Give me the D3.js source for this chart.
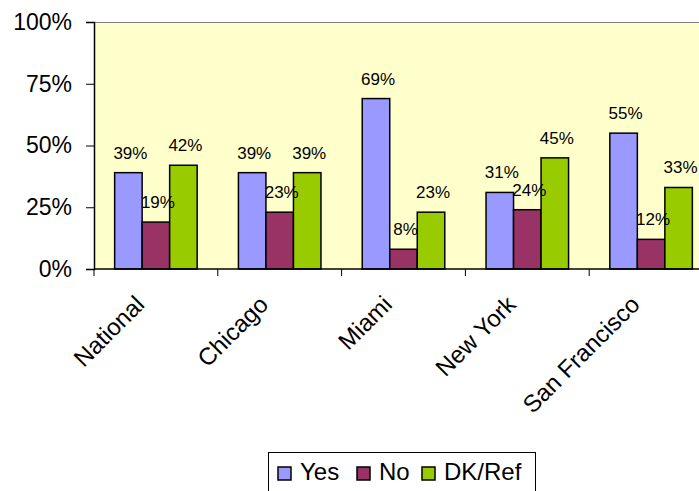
<!DOCTYPE html>
<html>
<head>
<meta charset="utf-8">
<script src="https://cdn.jsdelivr.net/npm/d3@7"></script>
<style>
  body { margin: 0; background: #fff; }
  text { font-family: Arial, "Liberation Sans", sans-serif; }
</style>
</head>
<body>
<svg id="chart"></svg>
<script>
// valeurs
var categories = ["National", "Chicago", "Miami", "New York", "San Francisco"];
var series = ["Yes", "No", "DK/Ref"];
var yes = [0.39, 0.39, 0.69, 0.31, 0.55];
var no = [0.19, 0.23, 0.08, 0.24, 0.12];
var dkref = [0.42, 0.39, 0.23, 0.45, 0.33];
var yTicks = [0, 0.25, 0.5, 0.75, 1];

var colors = ["#9999FF", "#993366", "#99CC00"];

var W = 699, H = 491;
var plot = {left: 94, top: 22, right: 713, bottom: 269};

const svg = d3.select("#chart").attr("width", W).attr("height", H);

var x0 = d3.scaleBand()
  .domain(categories)
  .range([plot.left, plot.right])
  .paddingInner(1/3)
  .paddingOuter(1/6);
var step = x0.step();

var x1 = d3.scaleBand()
  .domain(series)
  .range([0, x0.bandwidth()]);

var y = d3.scaleLinear().domain([0, 1]).range([plot.bottom, plot.top]);

var color = d3.scaleOrdinal(series, colors);

// table de données
var data = categories.map((c, i) => ({
  cat: c,
  vals: [
    {key: "Yes", v: yes[i]},
    {key: "No", v: no[i]},
    {key: "DK/Ref", v: dkref[i]}
  ]
}));

// fond de la zone de tracé
svg.append("rect")
  .attr("x", plot.left).attr("y", plot.top)
  .attr("width", plot.right - plot.left)
  .attr("height", plot.bottom - plot.top)
  .attr("fill", "#FFFFCC");

svg.append("line")
  .attr("x1", plot.left).attr("x2", W)
  .attr("y1", plot.top + 0.5).attr("y2", plot.top + 0.5)
  .attr("stroke", "#808080").attr("stroke-width", 1);

// barres
const groups = svg.selectAll("g.grp")
  .data(data)
  .enter().append("g")
  .attr("class", "grp")
  .attr("transform", d => "translate(" + x0(d.cat) + ",0)");

groups.selectAll("rect")
  .data(d => d.vals)
  .enter().append("rect")
  .attr("x", d => x1(d.key))
  .attr("y", d => y(d.v))
  .attr("width", x1.bandwidth())
  .attr("height", d => y(0) - y(d.v))
  .attr("fill", d => color(d.key))
  .attr("stroke", "#000")
  .attr("stroke-width", 1.5);

groups.selectAll("text")
  .data(d => d.vals)
  .enter().append("text")
  .attr("x", d => x1(d.key) + x1.bandwidth() / 2 + 2)
  .attr("y", d => y(d.v) - 14)
  .attr("text-anchor", "middle")
  .attr("font-size", 17)
  .attr("fill", "#000")
  .text(d => d3.format(".0%")(d.v));

// axe Y
const yAxis = svg.append("g")
  .attr("transform", "translate(" + plot.left + ",0)")
  .call(d3.axisLeft(y).tickValues(yTicks).tickFormat(d3.format(".0%")).tickSize(8).tickPadding(14));
yAxis.select(".domain").attr("stroke", "#000").attr("stroke-width", 1.5);
yAxis.selectAll(".tick line").attr("stroke", "#000");
yAxis.selectAll(".tick text")
  .attr("font-size", 23)
  .attr("font-family", "Arial, 'Liberation Sans', sans-serif")
  .attr("fill", "#000");

// axe X : traits entre catégories
svg.append("line")
  .attr("x1", plot.left).attr("x2", W)
  .attr("y1", plot.bottom).attr("y2", plot.bottom)
  .attr("stroke", "#000").attr("stroke-width", 1.5);

svg.selectAll("line.xtick")
  .data(categories)
  .enter().append("line")
  .attr("class", "xtick")
  .attr("x1", d => x0(d) - step / 6).attr("x2", d => x0(d) - step / 6)
  .attr("y1", plot.bottom).attr("y2", plot.bottom + 7)
  .attr("stroke", "#000");

svg.selectAll("text.xlab")
  .data(categories)
  .enter().append("text")
  .attr("class", "xlab")
  .attr("transform", d => "translate(" + (x0(d) + x0.bandwidth() / 2 - 10) + "," + 306 + ") rotate(-45)")
  .attr("text-anchor", "end")
  .attr("font-size", 24)
  .attr("fill", "#000")
  .text(d => d);

// légende
const legend = svg.append("g");
legend.append("rect")
  .attr("x", 268.5).attr("y", 452.5)
  .attr("width", 267).attr("height", 60)
  .attr("fill", "#fff")
  .attr("stroke", "#000").attr("stroke-width", 1);

var legX = [278, 357, 422];
series.forEach((s, i) => {
  legend.append("rect")
    .attr("x", legX[i]).attr("y", 467)
    .attr("width", 13).attr("height", 13)
    .attr("fill", color(s))
    .attr("stroke", "#000").attr("stroke-width", 1.5);
  legend.append("text")
    .attr("x", legX[i] + 22).attr("y", 480)
    .attr("font-size", 24)
    .attr("fill", "#000")
    .text(s);
});
</script>
</body>
</html>
